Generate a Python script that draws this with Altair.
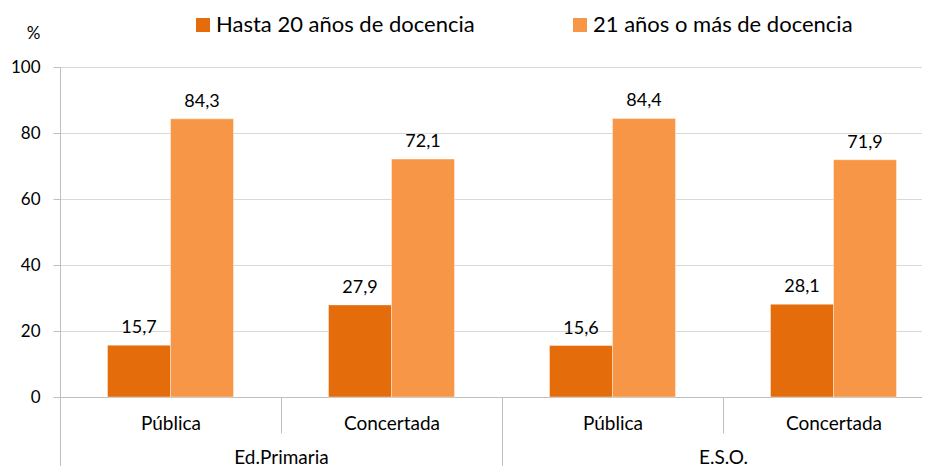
import altair as alt
import pandas as pd

groups = ["Ed.Primaria", "Ed.Primaria", "E.S.O.", "E.S.O."]
tipos = ["Pública", "Concertada", "Pública", "Concertada"]
series_names = ["Hasta 20 años de docencia", "21 años o más de docencia"]
hasta20 = [15.7, 27.9, 15.6, 28.1]
mas21 = [84.3, 72.1, 84.4, 71.9]
colors = ["#E46C0A", "#F79646"]
y_ticks = [0, 20, 40, 60, 80, 100]
group_order = ["Ed.Primaria", "E.S.O."]

rows = []
for g, t, a, b in zip(groups, tipos, hasta20, mas21):
    cat = g + "|" + t
    rows.append({"group": g, "cat": cat, "series": series_names[0], "value": a})
    rows.append({"group": g, "cat": cat, "series": series_names[1], "value": b})
df = pd.DataFrame(rows)
df["label"] = df["value"].map(lambda v: f"{v:.1f}".replace(".", ","))
cat_order = [g + "|" + t for g, t in zip(groups, tipos)]

FONT = "Lato"
GRID = "#d9d9d9"
AX = "#bfbfbf"

x_main = alt.X(
    "cat:N",
    sort=cat_order,
    scale=alt.Scale(paddingInner=0, paddingOuter=0),
    axis=alt.Axis(
        title=None,
        labelExpr="split(datum.label, '|')[1]",
        tickBand="extent",
        tickSize=36,
        labelPadding=-19,
        labelFontSize=19,
        labelColor="#000000",
        labelAngle=0,
        domainColor=AX,
        tickColor=AX,
        grid=False,
    ),
)
x_off = alt.XOffset(
    "series:N",
    sort=series_names,
    scale=alt.Scale(paddingOuter=0.754, paddingInner=0),
)
y_enc = alt.Y(
    "value:Q",
    scale=alt.Scale(domain=[0, 100]),
    axis=alt.Axis(
        values=y_ticks,
        title="%",
        titleAngle=0,
        titleX=-27,
        titleY=-34,
        titleAlign="center",
        titleBaseline="middle",
        titleFontSize=17,
        titleFontWeight="normal",
        titleColor="#000000",
        labelFontSize=17,
        labelColor="#000000",
        labelPadding=13,
        tickSize=7,
        tickColor=AX,
        domainColor=AX,
        gridColor=GRID,
    ),
)

bars = alt.Chart(df).mark_bar(stroke="#ffffff", strokeWidth=0.4).encode(
    x=x_main,
    xOffset=x_off,
    y=y_enc,
    color=alt.Color(
        "series:N",
        sort=series_names,
        scale=alt.Scale(domain=series_names, range=colors),
        legend=alt.Legend(
            orient="none",
            legendX=132,
            legendY=-53,
            direction="horizontal",
            title=None,
            symbolType="square",
            symbolSize=196,
            symbolStrokeWidth=0,
            labelFontSize=22,
            labelColor="#000000",
            labelOffset=2,
            columnPadding=94,
            padding=0,
            labelLimit=400,
        ),
    ),
)

labels = alt.Chart(df).mark_text(baseline="bottom", dy=-8, fontSize=18, color="#000000", font=FONT).encode(
    x=x_main,
    xOffset=x_off,
    y=alt.Y("value:Q"),
    text="label:N",
)

main = alt.layer(bars, labels)

group_df = pd.DataFrame({"group": group_order})
group_layer = alt.Chart(group_df).mark_text(text="").encode(
    x=alt.X(
        "group:N",
        sort=group_order,
        scale=alt.Scale(paddingInner=0, paddingOuter=0),
        axis=alt.Axis(
            orient="bottom",
            title=None,
            tickBand="extent",
            tickSize=75,
            labelPadding=-24,
            labelFontSize=19,
            labelColor="#000000",
            labelAngle=0,
            domain=False,
            tickColor=AX,
            grid=False,
        ),
    )
)

chart = (
    alt.layer(main, group_layer)
    .resolve_scale(x="independent")
    .properties(
        width=884,
        height=330,
        autosize=alt.AutoSizeParams(type="none"),
        padding={"left": 52, "top": 59, "right": -22, "bottom": 69},
    )
    .configure(font=FONT)
    .configure_view(stroke=None)
)

chart.save("out.html", embed_options={"renderer": "svg", "actions": False})
